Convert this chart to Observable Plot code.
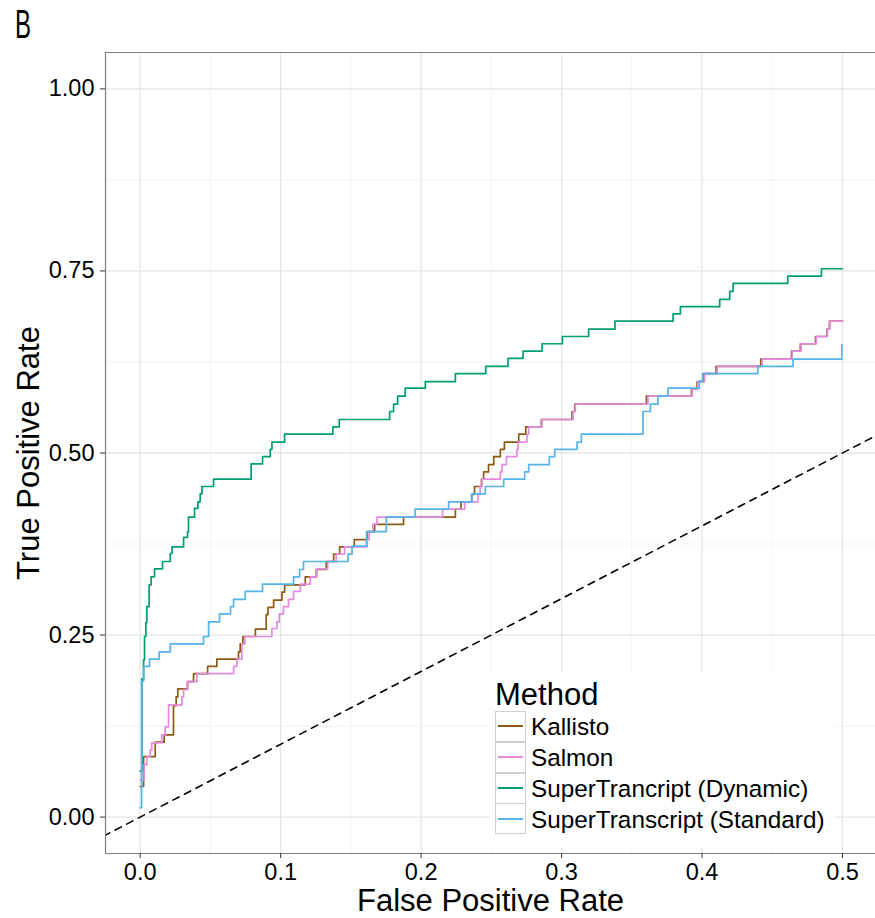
<!DOCTYPE html>
<html>
<head>
<meta charset="utf-8">
<script src="https://cdn.jsdelivr.net/npm/d3@7"></script>
<script src="https://cdn.jsdelivr.net/npm/@observablehq/plot@0.6"></script>
<style>
  html, body { margin: 0; padding: 0; background: white; }
  #wrap { position: relative; width: 875px; height: 918px; font-family: "Liberation Sans", Arial, Helvetica, sans-serif; color: black; }
  #panel { position: absolute; left: 15px; top: 4px; font-size: 40px; line-height: 1; transform: scaleX(0.6); transform-origin: left top; }
  #legend { position: absolute; left: 490px; top: 672px; width: 345px; height: 176px; background: white; }
  #legend .title { position: absolute; left: 5px; top: 7px; font-size: 31px; line-height: 1; }
  #legend .key { position: absolute; left: 5px; width: 29px; height: 29px; border: 1.5px solid #d0d0d0; background: white; }
  #legend .key span { position: absolute; left: 2px; right: 2px; top: 13.5px; height: 2px; }
  #legend .lab { position: absolute; left: 41px; font-size: 24.3px; line-height: 31px; white-space: nowrap; }
</style>
</head>
<body>
<div id="wrap">
  <div id="chart"></div>
  <div id="panel">B</div>
  <div id="legend"></div>
</div>
<script>
// ---- data (FPR, TPR at each step) ----
const kallisto = [[0,0.042],[0.0024,0.083],[0.0107,0.103],[0.0171,0.113],[0.0237,0.153],[0.0256,0.165],[0.0268,0.176],[0.0337,0.186],[0.038,0.197],[0.048,0.207],[0.0546,0.217],[0.07,0.227],[0.0712,0.238],[0.0731,0.248],[0.082,0.258],[0.0897,0.278],[0.091,0.288],[0.095,0.298],[0.1009,0.309],[0.1028,0.319],[0.1175,0.33],[0.1254,0.34],[0.1325,0.351],[0.1377,0.361],[0.142,0.371],[0.1524,0.381],[0.1615,0.392],[0.1669,0.402],[0.1875,0.412],[0.2244,0.423],[0.2284,0.433],[0.236,0.443],[0.238,0.454],[0.243,0.464],[0.2445,0.474],[0.248,0.484],[0.2517,0.495],[0.2564,0.505],[0.2593,0.515],[0.2695,0.526],[0.2745,0.536],[0.2856,0.546],[0.3075,0.557],[0.3094,0.567],[0.3604,0.578],[0.3925,0.588],[0.3965,0.598],[0.4013,0.609],[0.41,0.619],[0.4418,0.629],[0.4637,0.64],[0.47,0.65],[0.4808,0.66],[0.489,0.67],[0.4907,0.681],[0.5,0.681]];
const salmon = [[0,0.051],[0.0028,0.072],[0.0047,0.083],[0.0071,0.092],[0.0083,0.102],[0.0154,0.113],[0.0178,0.124],[0.0202,0.154],[0.0297,0.165],[0.0309,0.175],[0.0337,0.186],[0.0404,0.197],[0.0665,0.207],[0.0689,0.217],[0.0724,0.238],[0.0745,0.248],[0.0938,0.259],[0.0973,0.268],[0.099,0.279],[0.102,0.289],[0.1056,0.299],[0.1092,0.31],[0.114,0.32],[0.121,0.33],[0.1258,0.341],[0.1335,0.351],[0.1395,0.361],[0.1455,0.371],[0.1615,0.381],[0.163,0.392],[0.1657,0.402],[0.1686,0.412],[0.2153,0.423],[0.231,0.433],[0.2405,0.443],[0.242,0.454],[0.2434,0.464],[0.2564,0.474],[0.2576,0.484],[0.2607,0.495],[0.2682,0.505],[0.269,0.515],[0.2754,0.526],[0.2766,0.536],[0.286,0.546],[0.3082,0.557],[0.3098,0.567],[0.3615,0.578],[0.393,0.588],[0.397,0.598],[0.4018,0.609],[0.4108,0.619],[0.4428,0.629],[0.4642,0.64],[0.4705,0.65],[0.4813,0.66],[0.4893,0.67],[0.491,0.681],[0.5,0.681]];
const dynamic = [[0,0.063],[0.0012,0.19],[0.0024,0.216],[0.0031,0.248],[0.004,0.267],[0.0047,0.289],[0.0064,0.319],[0.0078,0.33],[0.0102,0.341],[0.0159,0.351],[0.0214,0.362],[0.0226,0.371],[0.0309,0.384],[0.0337,0.392],[0.0344,0.412],[0.0387,0.424],[0.0411,0.433],[0.0427,0.444],[0.044,0.454],[0.0522,0.464],[0.079,0.485],[0.0871,0.495],[0.0926,0.505],[0.0938,0.515],[0.1028,0.526],[0.1372,0.536],[0.1417,0.546],[0.1776,0.557],[0.1804,0.567],[0.1833,0.578],[0.1887,0.589],[0.203,0.598],[0.2244,0.609],[0.246,0.619],[0.2619,0.63],[0.2726,0.64],[0.2861,0.65],[0.3006,0.66],[0.3193,0.67],[0.338,0.681],[0.3794,0.691],[0.3846,0.701],[0.4126,0.711],[0.4197,0.722],[0.4221,0.733],[0.461,0.743],[0.485,0.753],[0.5,0.753]];
const standard = [[0,0.013],[0.001,0.187],[0.0024,0.207],[0.0066,0.217],[0.0135,0.227],[0.0214,0.238],[0.0451,0.248],[0.0487,0.268],[0.0565,0.279],[0.0643,0.289],[0.0665,0.299],[0.0748,0.31],[0.0871,0.32],[0.1092,0.33],[0.1135,0.34],[0.1163,0.351],[0.148,0.361],[0.1508,0.372],[0.1612,0.392],[0.1752,0.412],[0.1957,0.423],[0.2196,0.433],[0.2362,0.444],[0.2457,0.454],[0.2588,0.464],[0.2737,0.474],[0.2766,0.484],[0.2913,0.495],[0.2951,0.505],[0.311,0.515],[0.3141,0.526],[0.358,0.557],[0.3632,0.567],[0.3687,0.578],[0.3758,0.589],[0.3981,0.599],[0.4005,0.609],[0.4397,0.619],[0.4648,0.629],[0.4995,0.649]];

const methods = ["Kallisto", "Salmon", "SuperTrancript (Dynamic)", "SuperTranscript (Standard)"];
const colors = ["#8C5A14", "#E48BE0", "#009E73", "#56B4E9"];
const series = [kallisto, salmon, dynamic, standard];

const xMajor = [0, 0.1, 0.2, 0.3, 0.4, 0.5];
const xMinor = [0.05, 0.15, 0.25, 0.35, 0.45];
const yMajor = [0, 0.25, 0.5, 0.75, 1.0];
const yMinor = [0.125, 0.375, 0.625, 0.875];
const xDomain = [-0.0247, 0.5235];
const yDomain = [-0.05, 1.05];
const diagonal = [-0.1, 0.6];
const xTitle = "False Positive Rate";
const yTitle = "True Positive Rate";
const legendTitle = "Method";

// ---- build table ----
const rows = series.flatMap((s, i) => s.map(([fpr, tpr]) => ({method: methods[i], fpr, tpr})));

const chart = Plot.plot({
  width: 875,
  height: 918,
  marginLeft: 105,
  marginRight: 0,
  marginTop: 52,
  marginBottom: 65,
  style: {fontFamily: "Liberation Sans, Arial, Helvetica, sans-serif", fontSize: "23.5px", color: "black", background: "white"},
  x: {domain: xDomain},
  y: {domain: yDomain},
  color: {domain: methods, range: colors},
  marks: [
    Plot.ruleX(xMinor, {stroke: "#f3f3f3", strokeWidth: 1}),
    Plot.ruleY(yMinor, {stroke: "#f3f3f3", strokeWidth: 1}),
    Plot.ruleX(xMajor, {stroke: "#e6e6e6", strokeWidth: 1.3}),
    Plot.ruleY(yMajor, {stroke: "#e6e6e6", strokeWidth: 1.3}),
    Plot.line(diagonal, {x: d => d, y: d => d, stroke: "black", strokeWidth: 1.6, strokeDasharray: "7,6", clip: true}),
    Plot.line(rows, {x: "fpr", y: "tpr", z: "method", stroke: "method", curve: "step-after", strokeWidth: 1.7}),
    Plot.ruleY([yDomain[1]], {stroke: "#7f7f7f", strokeWidth: 1.2}),
    Plot.ruleY([yDomain[0]], {stroke: "#7f7f7f", strokeWidth: 1.2}),
    Plot.ruleX([xDomain[0]], {stroke: "#7f7f7f", strokeWidth: 1.2}),
    Plot.axisX({ticks: xMajor, tickFormat: d3.format(".1f"), tickSize: 5, tickPadding: 5, label: null, stroke: "#333"}),
    Plot.axisY({ticks: yMajor, tickFormat: d3.format(".2f"), tickSize: 5, tickPadding: 6, label: null, stroke: "#333"}),
    Plot.text([xTitle], {frameAnchor: "bottom", lineAnchor: "middle", textAnchor: "middle", dy: 48, fontSize: 31}),
    Plot.text([yTitle], {frameAnchor: "left", lineAnchor: "middle", textAnchor: "middle", rotate: -90, dx: -76, fontSize: 31})
  ]
});
document.getElementById("chart").appendChild(chart);

// ---- legend ----
const legend = document.getElementById("legend");
const t = document.createElement("div");
t.className = "title";
t.textContent = legendTitle;
legend.appendChild(t);
methods.forEach((m, i) => {
  const top = 38.7 + i * 30.9;
  const k = document.createElement("div");
  k.className = "key";
  k.style.top = top + "px";
  const sp = document.createElement("span");
  sp.style.background = colors[i];
  k.appendChild(sp);
  legend.appendChild(k);
  const l = document.createElement("div");
  l.className = "lab";
  l.style.top = (top + 0.5) + "px";
  l.textContent = m;
  legend.appendChild(l);
});
</script>
</body>
</html>
